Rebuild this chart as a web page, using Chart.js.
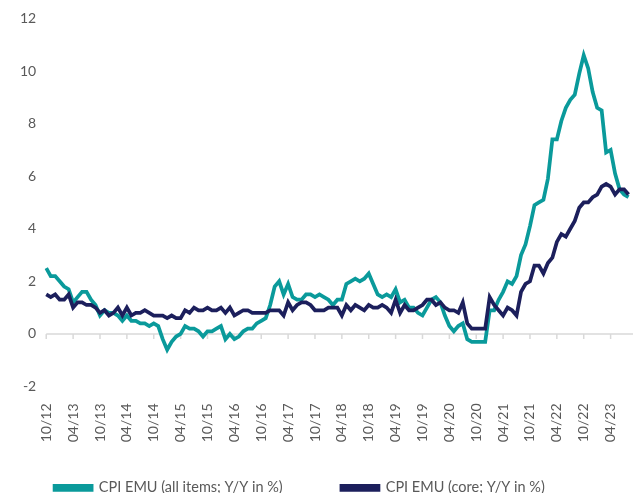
<!DOCTYPE html>
<html>
<head>
<meta charset="utf-8">
<script src="https://cdn.jsdelivr.net/npm/chart.js@4.4.0/dist/chart.umd.min.js"></script>
<style>
  html, body { margin: 0; padding: 0; background: #fff; }
  #wrap { width: 641px; height: 493px; }
</style>
</head>
<body>
<div id="wrap"><canvas id="chart" width="641" height="493"></canvas></div>
<script>
// months Oct 2012 .. Aug 2023 (plus one empty month so the axis runs a bit past the last point)
const startYear = 2012
const startMonth = 10
const monthCount = 132

// CPI EMU, all items, Y/Y in %
const headline = [
  2.5, 2.2, 2.2,
  2.0, 1.8, 1.7, 1.2, 1.4, 1.6, 1.6, 1.3, 1.1, 0.7, 0.9, 0.8,
  0.8, 0.7, 0.5, 0.7, 0.5, 0.5, 0.4, 0.4, 0.3, 0.4, 0.3, -0.2,
  -0.6, -0.3, -0.1, 0.0, 0.3, 0.2, 0.2, 0.1, -0.1, 0.1, 0.1, 0.2,
  0.3, -0.2, 0.0, -0.2, -0.1, 0.1, 0.2, 0.2, 0.4, 0.5, 0.6, 1.1,
  1.8, 2.0, 1.5, 1.9, 1.4, 1.3, 1.3, 1.5, 1.5, 1.4, 1.5, 1.4,
  1.3, 1.1, 1.3, 1.3, 1.9, 2.0, 2.1, 2.0, 2.1, 2.3, 1.9, 1.5,
  1.4, 1.5, 1.4, 1.7, 1.2, 1.3, 1.0, 1.0, 0.8, 0.7, 1.0, 1.3,
  1.4, 1.2, 0.7, 0.3, 0.1, 0.3, 0.4, -0.2, -0.3, -0.3, -0.3, -0.3,
  0.9, 0.9, 1.3, 1.6, 2.0, 1.9, 2.2, 3.0, 3.4, 4.1, 4.9, 5.0,
  5.1, 5.9, 7.4, 7.4, 8.1, 8.6, 8.9, 9.1, 9.9, 10.6, 10.1, 9.2,
  8.6, 8.5, 6.9, 7.0, 6.1, 5.5, 5.3, 5.2
]

// CPI EMU, core, Y/Y in %
const core = [
  1.5, 1.4, 1.5,
  1.3, 1.3, 1.5, 1.0, 1.2, 1.2, 1.1, 1.1, 1.0, 0.8, 0.9, 0.7,
  0.8, 1.0, 0.7, 1.0, 0.7, 0.8, 0.8, 0.9, 0.8, 0.7, 0.7, 0.7,
  0.6, 0.7, 0.6, 0.6, 0.9, 0.8, 1.0, 0.9, 0.9, 1.0, 0.9, 0.9,
  1.0, 0.8, 1.0, 0.7, 0.8, 0.9, 0.9, 0.8, 0.8, 0.8, 0.8, 0.9,
  0.9, 0.9, 0.7, 1.2, 0.9, 1.1, 1.2, 1.2, 1.1, 0.9, 0.9, 0.9,
  1.0, 1.0, 1.0, 0.7, 1.1, 0.9, 1.1, 1.0, 0.9, 1.1, 1.0, 1.0,
  1.1, 1.0, 0.8, 1.3, 0.8, 1.1, 0.9, 0.9, 1.0, 1.1, 1.3, 1.3,
  1.1, 1.2, 1.0, 0.9, 0.9, 0.8, 1.2, 0.4, 0.2, 0.2, 0.2, 0.2,
  1.4, 1.1, 0.9, 0.7, 1.0, 0.9, 0.7, 1.6, 1.9, 2.0, 2.6, 2.6,
  2.3, 2.7, 2.9, 3.5, 3.8, 3.7, 4.0, 4.3, 4.8, 5.0, 5.0, 5.2,
  5.3, 5.6, 5.7, 5.6, 5.3, 5.5, 5.5, 5.3
]

const seriesNames = ['CPI EMU (all items; Y/Y in %)', 'CPI EMU (core; Y/Y in %)']
const yTicks = [-2, 0, 2, 4, 6, 8, 10, 12]

const teal = '#0a9a9b'
const navy = '#1c1f5c'
const grey = '#595959'
const axisGrey = '#d9d9d9'

function makeLabels() {
  const labels = []
  for (let i = 0; i < monthCount; i++) {
    const m = (startMonth - 1 + i) % 12 + 1
    const y = startYear + Math.floor((startMonth - 1 + i) / 12)
    labels.push(String(m).padStart(2, '0') + '/' + String(y % 100).padStart(2, '0'))
  }
  return labels
}

const labels = makeLabels()
const everySix = i => i % 6 === 0

// horizontal axis crosses at 0: grey line there with small tick marks every 6 months
const zeroAxis = {
  id: 'zeroAxis',
  beforeDatasetsDraw(chart) {
    const { ctx, chartArea, scales } = chart
    const y0 = scales.y.getPixelForValue(0)
    ctx.save()
    ctx.strokeStyle = axisGrey
    ctx.lineWidth = 1.5
    ctx.beginPath()
    ctx.moveTo(chartArea.left, y0)
    ctx.lineTo(chartArea.right, y0)
    labels.forEach((l, i) => {
      if (!everySix(i)) return
      const x = scales.x.getPixelForValue(i)
      ctx.moveTo(x, y0)
      ctx.lineTo(x, y0 + 5)
    })
    ctx.stroke()
    ctx.restore()
  }
}

// trailing gaps after legend texts (the original legend is widely spaced)
const legendGaps = ['\u2003\u2003\u2003\u2002 ', '\u2003\u2003\u2003\u2002    ']

const config = {
  type: 'line',
  data: {
    labels: labels,
    datasets: [
      {
        label: seriesNames[0],
        data: headline,
        borderColor: teal,
        backgroundColor: teal,
        borderWidth: 3.75,
        pointRadius: 0,
        tension: 0,
        order: 1
      },
      {
        label: seriesNames[1],
        data: core,
        borderColor: navy,
        backgroundColor: navy,
        borderWidth: 3.75,
        pointRadius: 0,
        tension: 0,
        order: 0
      }
    ]
  },
  plugins: [zeroAxis],
  options: {
    responsive: false,
    animation: false,
    layout: { padding: { left: 10, right: 8, top: 10, bottom: -12 } },
    plugins: {
      tooltip: { enabled: false },
      legend: {
        position: 'bottom',
        labels: {
          boxWidth: 37,
          boxHeight: 4,
          padding: 4,
          color: grey,
          font: { family: 'Lato', size: 14.5 },
          sort: (a, b) => a.datasetIndex - b.datasetIndex,
          generateLabels: chart => {
            const items = Chart.defaults.plugins.legend.labels.generateLabels(chart)
            items.forEach((it, i) => { it.text = it.text + legendGaps[i] })
            return items
          }
        }
      }
    },
    scales: {
      x: {
        position: 'bottom',
        grid: { display: false },
        border: { display: false },
        afterFit: axis => {
          axis.height = 90
          axis.paddingLeft = 0
          axis.paddingRight = 0
        },
        ticks: {
          autoSkip: false,
          maxRotation: 90,
          minRotation: 90,
          padding: 9,
          color: grey,
          font: { family: 'Lato', size: 14 },
          callback: function (v, i) { return everySix(i) ? labels[i] : '' }
        }
      },
      y: {
        min: -2,
        max: 12,
        afterBuildTicks: axis => { axis.ticks = yTicks.map(v => ({ value: v })) },
        grid: { display: false, drawTicks: false },
        border: { display: false },
        ticks: {
          padding: 10,
          color: grey,
          font: { family: 'Lato', size: 14 }
        }
      }
    }
  }
}

new Chart(document.getElementById('chart'), config)
</script>
</body>
</html>
